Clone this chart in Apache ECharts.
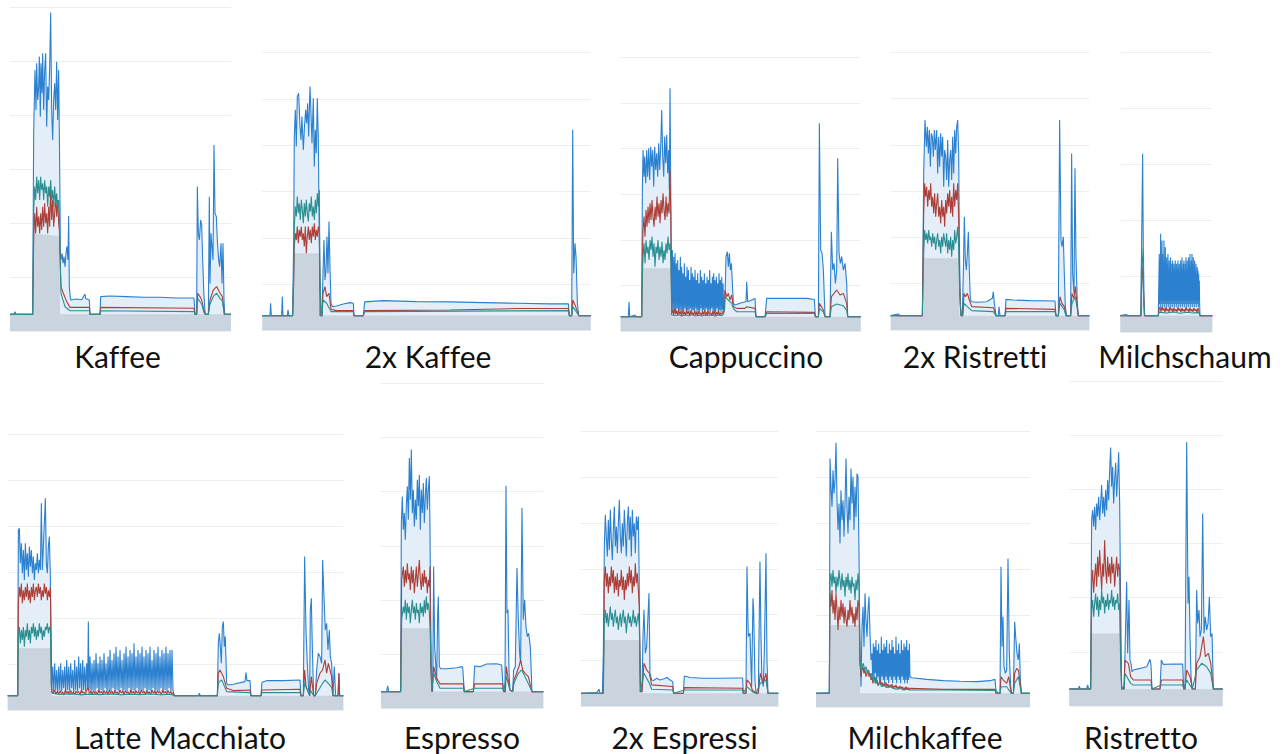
<!DOCTYPE html>
<html>
<head>
<meta charset="utf-8">
<script src="https://cdn.jsdelivr.net/npm/echarts@6.0.0/dist/echarts.min.js"></script>
<style>
html,body{margin:0;padding:0;background:#fff;}
#chart{width:1284px;height:754px;}
#chart text{font-variant-ligatures:none !important;font-feature-settings:"liga" 0, "clig" 0 !important;}
</style>
</head>
<body>
<div id="chart"></div>
<script>
// Power traces of a coffee machine, one panel per beverage.
// Each trace is a flat list of [time (s), power (W)] pairs.

const beverages = ['Kaffee', '2x Kaffee', 'Cappuccino', '2x Ristretti', 'Milchschaum',
  'Latte Macchiato', 'Espresso', '2x Espressi', 'Milchkaffee', 'Ristretto'];

// recording window per beverage [start s, end s]
const timeWindows = [[30, 693], [37, 1022], [32, 752], [32, 628], [721, 997],
  [23, 1030], [33, 520], [33, 625], [18, 660], [28, 488]];

// upper end of the power axis (W) and its tick step
const powerMax = [3000, 3000, 3000, 3000, 2500, 3000, 3000, 3000, 3000, 3000];
const powerStep = 500;

// ---------- Kaffee ----------
const kaffeeBlue = [30,154, 42,154, 45,179, 48,154, 98,154, 101,1831, 103,2139, 105,2417, 108,2047, 110,2479, 113,2139, 116,2263, 118,2541, 121,1985, 123,2479, 126,2201, 128,2571, 131,2047, 134,2417, 137,2571, 140,1892, 143,2263, 146,2139, 149,2448, 152,2948, 155,2047, 158,1769, 161,2139, 164,2294, 167,2047, 170,2494, 173,1954, 176,2417, 178,1831, 180,1213, 181,719, 183,658, 186,719, 189,627, 192,688, 195,596, 198,719, 201,781, 204,658, 206,1065, 208,411, 211,303, 213,287, 230,296, 245,290, 255,343, 257,300, 268,287, 270,154, 300,154, 302,318, 330,324, 380,318, 430,312, 480,312, 530,306, 582,306, 585,154, 590,154, 592,1337, 595,904, 598,843, 602,1028, 605,982, 608,658, 612,318, 616,154, 625,154, 628,1244, 630,441, 633,904, 636,781, 639,658, 642,1723, 645,1090, 649,1059, 652,843, 656,658, 659,596, 663,812, 666,441, 669,812, 672,287, 674,154, 693,154];
const kaffeeRed = [30,154, 98,154, 101,843, 104,1090, 107,904, 110,1151, 113,966, 116,1059, 119,904, 122,1090, 125,935, 128,1151, 131,966, 134,1182, 137,997, 140,1090, 143,904, 146,1151, 149,966, 152,1337, 155,1028, 158,1213, 161,966, 164,1090, 167,1244, 170,1059, 173,1213, 176,997, 178,935, 180,719, 183,411, 190,349, 200,272, 210,219, 268,219, 270,154, 300,154, 302,219, 582,210, 585,154, 590,154, 593,349, 600,318, 605,287, 612,188, 616,154, 625,154, 630,287, 640,380, 650,411, 660,349, 667,318, 673,154, 693,154];
const kaffeeTeal = [30,154, 98,154, 101,1090, 104,1337, 107,1213, 110,1429, 113,1275, 116,1398, 119,1213, 122,1429, 125,1306, 128,1368, 131,1213, 134,1398, 137,1275, 140,1337, 143,1151, 146,1337, 149,1244, 152,1398, 155,1213, 158,1306, 161,1151, 164,1337, 167,1182, 170,1275, 173,1121, 176,1213, 178,1090, 180,719, 183,349, 195,225, 210,188, 268,188, 270,154, 300,154, 302,188, 582,179, 585,154, 590,154, 593,300, 605,250, 612,170, 616,154, 625,154, 630,250, 640,320, 650,350, 660,300, 667,280, 673,154, 693,154];
const kaffeeBase = [30,154, 99,154, 101,900, 178,880, 180,154, 693,154];

// ---------- 2x Kaffee ----------
const kaffee2Blue = [37,162, 60,162, 62,295, 64,162, 95,162, 97,367, 99,162, 112,162, 114,223, 117,162, 128,162, 131,979, 133,2095, 136,2383, 139,1987, 142,2527, 146,2563, 150,2203, 153,2059, 156,2311, 160,1951, 163,2167, 167,2383, 170,2239, 173,2455, 176,2095, 180,2635, 183,2347, 186,2023, 190,2509, 193,1771, 196,2167, 199,1915, 202,2509, 205,2059, 208,979, 210,162, 216,162, 219,619, 222,979, 225,547, 228,655, 231,1015, 234,619, 237,1177, 240,691, 243,295, 247,259, 260,266, 280,288, 300,302, 310,295, 312,162, 340,162, 344,310, 400,324, 500,313, 600,310, 700,302, 800,295, 900,288, 955,288, 958,162, 965,162, 968,2167, 971,619, 975,943, 978,799, 982,295, 986,162, 1022,162];
const kaffee2Red = [37,162, 128,162, 131,500, 133,907, 136,1051, 139,979, 142,1123, 145,943, 148,1087, 151,1015, 154,1123, 157,979, 160,1051, 163,907, 166,1123, 169,835, 172,1015, 175,1123, 178,979, 181,1087, 184,943, 187,1123, 190,1015, 193,1159, 196,979, 199,1087, 202,1015, 205,1123, 208,1051, 210,547, 213,162, 216,162, 219,403, 225,475, 230,367, 237,403, 243,230, 260,216, 310,216, 312,162, 340,162, 344,216, 600,223, 800,238, 955,238, 958,162, 965,162, 968,331, 975,277, 982,205, 986,162, 1022,162];
const kaffee2Teal = [37,162, 128,162, 131,600, 133,1123, 136,1339, 139,1231, 142,1447, 145,1267, 148,1375, 151,1195, 154,1411, 157,1303, 160,1159, 163,1375, 166,1231, 169,1411, 172,1267, 175,1177, 178,1375, 181,1285, 184,1447, 187,1231, 190,1339, 193,1195, 196,1411, 199,1267, 202,1483, 205,1339, 208,1519, 210,619, 213,162, 216,162, 219,331, 230,295, 243,205, 310,205, 312,162, 340,162, 344,205, 955,216, 958,162, 965,162, 968,259, 982,187, 986,162, 1022,162];
const kaffee2Base = [37,162, 130,162, 132,835, 208,835, 210,162, 1022,162];

// ---------- Cappuccino ----------
const cappuccinoBlue = [32,161, 55,161, 57,325, 59,161, 75,179, 78,161, 95,161, 97,1548, 99,1986, 102,1694, 104,1913, 107,1621, 110,1986, 113,1694, 116,2004, 119,1657, 122,2022, 125,1803, 128,1986, 131,1584, 134,2022, 137,1767, 140,1949, 143,1694, 146,2059, 149,1767, 152,2022, 155,2424, 158,1913, 161,1694, 164,2132, 167,1840, 170,2150, 173,1730, 176,1986, 178,1548, 180,2661, 182,1621, 185,234,
  187,891, 189,215, 191,818, 193,234, 195,854, 197,197, 199,745, 201,252, 203,781, 205,215, 207,672, 209,234, 211,818, 213,197, 215,708, 217,234, 219,635, 221,215, 223,745, 225,252, 227,599, 229,197, 231,708, 233,234, 235,672, 237,215, 239,562, 241,252, 243,708, 245,197, 247,635, 249,234, 251,599, 253,215, 255,672, 257,252, 259,562, 261,197, 263,635, 265,234, 267,526, 269,215, 271,672, 273,252, 275,599, 277,197, 279,562, 281,234, 283,635, 285,215, 287,526, 289,252, 291,599, 293,197, 295,562, 297,234, 299,672, 301,215, 303,526, 305,252, 307,599, 309,197, 311,635, 313,234, 315,562, 317,215, 319,599, 321,252, 323,526, 325,197, 327,635, 329,234, 331,562, 333,215, 335,599, 337,234, 339,526, 341,215, 344,250,
  348,818, 352,872, 355,708, 358,854, 361,672, 364,745, 367,526, 370,307, 375,288, 390,307, 405,325, 408,325, 410,544, 413,325, 420,336, 435,361, 438,161, 465,161, 470,361, 500,361, 550,361, 590,361, 613,350, 616,161, 625,161, 628,2278, 632,891, 636,854, 640,672, 645,161, 660,161, 664,1091, 668,672, 672,745, 676,526, 680,672, 683,1894, 687,854, 691,745, 695,818, 700,672, 705,745, 710,526, 713,161, 752,161];
const cappuccinoRed = [32,161, 95,161, 97,800, 99,1110, 102,1256, 105,1037, 108,1329, 111,1146, 114,1365, 117,1183, 120,1402, 123,1219, 126,1438, 129,1256, 132,1146, 135,1365, 138,1219, 141,1475, 144,1256, 147,1402, 150,1183, 153,1438, 156,1292, 159,1511, 162,1329, 165,1219, 168,1475, 171,1256, 174,1402, 177,1292, 180,1767, 182,1329, 185,197,
  188,234, 191,179, 194,252, 197,190, 200,227, 203,172, 206,241, 209,186, 212,219, 215,168, 218,234, 221,183, 224,212, 227,172, 230,241, 233,190, 236,219, 239,168, 242,227, 245,183, 248,205, 251,172, 254,234, 257,179, 260,212, 263,168, 266,227, 269,186, 272,205, 275,172, 278,219, 281,183, 284,234, 287,168, 290,212, 293,179, 296,227, 299,186, 302,205, 305,172, 308,219, 311,179, 314,234, 317,168, 320,212, 323,183, 326,227, 329,172, 332,205, 335,186, 338,219, 341,205,
  345,453, 350,380, 355,416, 360,343, 365,398, 370,270, 380,252, 405,252, 410,270, 435,252, 438,161, 465,161, 470,215, 613,208, 616,161, 625,161, 628,307, 640,234, 645,161, 660,161, 664,380, 672,416, 680,453, 690,398, 700,416, 710,307, 713,161, 752,161];
const cappuccinoTeal = [32,161, 95,161, 97,600, 99,818, 102,964, 105,745, 108,1000, 111,854, 114,927, 117,781, 120,1000, 123,891, 126,1037, 129,818, 132,964, 135,708, 138,927, 141,854, 144,1000, 147,781, 150,927, 153,818, 156,982, 159,745, 162,891, 165,781, 168,964, 171,854, 174,1037, 177,891, 180,964, 183,745, 185,179,
  195,172, 205,183, 215,168, 225,179, 235,172, 245,183, 255,168, 265,176, 275,168, 285,179, 295,172, 305,176, 315,168, 325,179, 335,172, 341,190,
  345,380, 355,343, 365,307, 370,250, 380,215, 435,215, 438,161, 465,161, 470,197, 613,197, 616,161, 625,161, 628,250, 640,215, 645,161, 660,161, 664,270, 680,300, 700,280, 710,230, 713,161, 752,161];
const cappuccinoBase = [32,161, 96,161, 98,690, 183,690, 185,161, 752,161];

// ---------- 2x Ristretti ----------
const ristretti2Blue = [32,155, 55,173, 60,155, 127,155, 131,1692, 135,2268, 139,1980, 142,2196, 145,1908, 148,2160, 151,1764, 154,2124, 157,2088, 160,1872, 163,2160, 166,1944, 170,2160, 173,1692, 176,2088, 179,1764, 182,2124, 185,1872, 188,2088, 191,1548, 194,1944, 197,1872, 200,1620, 203,2052, 206,1548, 209,1836, 212,1944, 215,1620, 218,2088, 221,1692, 224,2160, 227,1908, 230,2196, 233,2268, 236,1908, 238,972, 241,252, 244,155, 247,155, 250,612, 253,1224, 256,756, 259,648, 262,828, 265,1062, 268,648, 271,324, 275,306, 290,299, 320,306, 337,342, 340,414, 343,288, 348,155, 355,155, 357,252, 360,155, 375,155, 378,331, 400,324, 450,317, 525,313, 528,155, 535,155, 539,2268, 543,972, 546,900, 550,1008, 553,612, 556,252, 560,155, 572,155, 575,1908, 578,612, 582,396, 585,1746, 588,792, 592,288, 595,155, 628,155];
const ristretti2Red = [32,155, 127,155, 131,1260, 134,1584, 137,1440, 140,1548, 143,1332, 146,1512, 149,1404, 152,1584, 155,1332, 158,1440, 161,1260, 164,1476, 167,1224, 170,1368, 173,1476, 176,1224, 179,1332, 182,1152, 185,1404, 188,1224, 191,1332, 194,1116, 197,1404, 200,1260, 203,1476, 206,1332, 209,1512, 212,1260, 215,1440, 218,1224, 221,1584, 224,1332, 227,1512, 230,1404, 233,1584, 236,1188, 239,468, 243,155, 248,155, 252,396, 256,360, 262,396, 268,324, 275,252, 340,241, 343,216, 348,155, 375,155, 378,234, 525,223, 528,155, 535,155, 540,360, 546,288, 553,252, 558,155, 572,155, 576,396, 582,342, 586,468, 590,324, 595,155, 628,155];
const ristretti2Teal = [32,155, 127,155, 131,828, 134,1080, 137,972, 140,1044, 143,936, 146,1080, 149,972, 152,1008, 155,900, 158,1044, 161,936, 164,1008, 167,864, 170,972, 173,1044, 176,900, 179,972, 182,828, 185,1008, 188,900, 191,1044, 194,972, 197,900, 200,1044, 203,828, 206,972, 209,864, 212,1008, 215,792, 218,972, 221,864, 224,1080, 227,936, 230,1008, 233,1116, 236,900, 239,396, 243,155, 248,155, 252,288, 262,252, 275,209, 340,198, 348,155, 375,155, 378,198, 525,198, 528,155, 535,155, 540,288, 553,216, 558,155, 572,155, 576,288, 586,360, 595,155, 628,155];
const ristretti2Base = [32,155, 129,155, 131,774, 236,774, 238,155, 628,155];

// ---------- Milchschaum ----------
const milchschaumBlue = [721,149, 740,158, 743,149, 783,149, 785,820, 788,1594, 790,760, 793,149, 835,149, 837,522,
  838,700, 839,253, 840,641, 841,224, 842,879, 843,283, 844,611, 845,253, 846,820, 847,224, 848,700, 849,283, 850,581, 851,253, 852,820, 853,224, 854,641, 855,283, 856,760, 857,253, 858,551, 859,224, 860,671, 861,283, 862,611, 863,253, 864,700, 865,224, 866,551, 867,283, 868,641, 869,253, 870,581, 871,224, 872,671, 873,283, 874,522, 875,253, 876,611, 877,224, 878,641, 879,283, 880,551, 881,253, 882,611, 883,224, 884,581, 885,283, 886,641, 887,253, 888,522, 889,224, 890,611, 891,283, 892,551, 893,253, 894,641, 895,224, 896,581, 897,283, 898,611, 899,253, 900,522, 901,224, 902,641, 903,283, 904,581, 905,253, 906,671, 907,224, 908,551, 909,283, 910,611, 911,253, 912,641, 913,224, 914,551, 915,283, 916,611, 917,253, 918,671, 919,224, 920,581, 921,283, 922,641, 923,253, 924,551, 925,224, 926,671, 927,283, 928,611, 929,253, 930,700, 931,224, 932,581, 933,283, 934,641, 935,253, 936,701, 937,224, 938,611, 939,283, 940,671, 941,253, 942,581, 943,224, 944,641, 945,283, 946,551, 947,253, 948,611, 949,224, 950,522, 951,283, 952,581, 953,253, 954,551, 955,224, 956,522, 957,283, 958,462, 959,253,
  960,149, 997,149];
const milchschaumRed = [721,149, 783,149, 785,462, 788,581, 791,343, 794,149, 835,149,
  837,200, 840,224, 843,185, 846,230, 849,194, 852,215, 855,179, 858,224, 861,190, 864,209, 867,182, 870,227, 873,194, 876,212, 879,179, 882,221, 885,188, 888,206, 891,182, 894,224, 897,191, 900,212, 903,179, 906,218, 909,188, 912,206, 915,182, 918,224, 921,194, 924,209, 927,179, 930,221, 933,188, 936,206, 939,182, 942,218, 945,191, 948,206, 951,179, 954,215, 957,185,
  960,149, 997,149];
const milchschaumTeal = [721,149, 783,149, 785,760, 788,640, 791,300, 794,149, 835,149, 837,180, 860,173, 880,182, 900,170, 920,179, 940,173, 958,176, 960,149, 997,149];
const milchschaumBase = [721,149, 997,149];

// ---------- Latte Macchiato ----------
const latteBlue = [23,159, 53,159, 55,1958, 58,1977, 61,1596, 64,1813, 67,1488, 70,1741, 73,1415, 76,1813, 79,1524, 82,1705, 85,1451, 88,1777, 91,1560, 94,1741, 97,1488, 100,1669, 103,1415, 106,1596, 109,1524, 112,1705, 115,1488, 118,1633, 121,1524, 124,2248, 127,1524, 130,1777, 133,2031, 136,2302, 139,1596, 142,1488, 145,1777, 148,1886, 151,1451, 153,900, 155,221,
  158,474, 161,203, 164,510, 167,221, 170,438, 173,185, 176,474, 179,221, 182,510, 185,203, 188,438, 191,239, 194,474, 197,185, 200,547, 203,221, 206,474, 209,203, 212,510, 215,239, 218,438, 221,185, 224,547, 227,221, 230,474, 233,203, 236,583, 239,239, 242,510, 245,185, 248,547, 251,221, 254,474, 257,203, 260,510, 263,239, 265,963, 267,221, 270,583, 273,185, 276,510, 279,221, 282,547, 285,203, 288,619, 291,239, 294,510, 297,185, 300,583, 303,221, 306,547, 309,203, 312,619, 315,239, 318,510, 321,185, 324,583, 327,221, 330,655, 333,203, 336,547, 339,239, 342,619, 345,185, 348,691, 351,221, 354,583, 357,203, 360,655, 363,239, 366,547, 369,185, 372,619, 375,221, 378,691, 381,203, 384,583, 387,239, 390,655, 393,185, 396,619, 399,221, 402,728, 405,203, 408,583, 411,239, 414,655, 417,185, 420,619, 423,221, 426,691, 429,203, 432,583, 435,239, 438,655, 441,185, 444,619, 447,221, 450,691, 453,203, 456,547, 459,239, 462,655, 465,185, 468,619, 471,221, 474,691, 477,203, 480,583, 483,239, 486,655, 489,185, 492,619, 495,221, 498,691, 501,203, 504,619, 507,239, 510,655, 513,185, 516,655, 519,221, 522,159,
  595,159, 598,185, 601,159, 652,159, 655,728, 658,836, 661,691, 664,510, 667,909, 670,963, 673,691, 676,800, 680,293, 685,275, 700,282, 735,311, 738,409, 741,322, 750,322, 753,159, 783,159, 786,304, 800,322, 850,322, 900,329, 903,159, 910,159, 914,1669, 918,872, 922,510, 926,221, 929,159, 931,1090, 934,1216, 937,691, 941,159, 946,159, 950,438, 955,619, 960,583, 965,510, 968,1633, 972,1234, 976,872, 980,945, 984,655, 988,872, 991,583, 995,510, 999,159, 1003,474, 1007,159, 1014,159, 1017,402, 1019,159, 1030,159];
const latteRed = [23,159, 53,159, 55,1162, 58,1339, 61,1231, 64,1376, 67,1162, 70,1303, 73,1195, 76,1339, 79,1231, 82,1376, 85,1195, 88,1303, 91,1162, 94,1339, 97,1231, 100,1376, 103,1195, 106,1303, 109,1339, 112,1231, 115,1376, 118,1267, 121,1339, 124,1195, 127,1303, 130,1231, 133,1376, 136,1267, 139,1339, 142,1195, 145,1303, 148,1231, 151,1339, 154,293,
  156,203, 160,185, 164,221, 168,176, 172,207, 176,170, 180,214, 184,181, 188,199, 192,167, 196,221, 200,185, 204,207, 208,172, 212,214, 216,181, 220,199, 224,167, 228,210, 232,185, 236,203, 240,170, 244,221, 248,188, 252,199, 256,174, 260,214, 264,250, 268,185, 272,207, 276,172, 280,214, 284,181, 288,203, 292,170, 296,221, 300,188, 304,207, 308,174, 312,214, 316,185, 320,203, 324,170, 328,221, 332,188, 336,207, 340,174, 344,214, 348,185, 352,199, 356,170, 360,221, 364,188, 368,207, 372,174, 376,214, 380,185, 384,203, 388,170, 392,221, 396,188, 400,207, 404,174, 408,214, 412,185, 416,203, 420,170, 424,221, 428,188, 432,207, 436,174, 440,214, 444,185, 448,203, 452,170, 456,221, 460,188, 464,207, 468,174, 472,214, 476,185, 480,203, 484,170, 488,221, 492,188, 496,207, 500,174, 504,214, 508,185, 512,199, 516,176, 520,190, 523,159,
  652,159, 655,402, 660,438, 670,366, 680,239, 700,214, 750,221, 753,159, 783,159, 786,221, 900,228, 903,159, 910,159, 914,438, 918,257, 929,159, 931,250, 934,366, 941,159, 946,159, 950,293, 960,402, 968,438, 975,547, 980,402, 985,510, 990,438, 995,366, 999,159, 1014,159, 1017,402, 1019,159, 1030,159];
const latteTeal = [23,159, 53,159, 55,800, 58,905, 61,727, 64,872, 67,764, 70,905, 73,691, 76,872, 79,800, 82,945, 85,764, 88,872, 91,727, 94,905, 97,836, 100,945, 103,800, 106,905, 109,764, 112,872, 115,800, 118,945, 121,836, 124,905, 127,764, 130,872, 133,800, 136,905, 139,872, 142,945, 145,836, 148,905, 151,872, 154,257,
  156,185, 180,172, 210,178, 240,168, 270,176, 300,170, 330,178, 360,168, 390,176, 420,170, 450,178, 480,168, 510,174, 523,159,
  652,159, 655,300, 665,330, 680,203, 750,192, 753,159, 783,159, 786,192, 900,192, 903,159, 910,159, 914,300, 929,159, 931,220, 941,159, 946,159, 968,293, 975,329, 985,293, 995,250, 999,159, 1030,159];
const latteBase = [23,159, 53,159, 55,673, 153,673, 155,159, 1030,159];

// ---------- Espresso ----------
const espressoBlue = [33,156, 50,156, 53,208, 56,156, 92,156, 94,1711, 97,1956, 100,1650, 103,1803, 106,1557, 109,1865, 112,2050, 115,1742, 118,2311, 121,1927, 124,2389, 127,1803, 130,2019, 133,1680, 136,1927, 139,1742, 142,2111, 145,1865, 148,2157, 151,1650, 154,2019, 157,1803, 160,2080, 163,1711, 166,1957, 169,2126, 172,1834, 175,2019, 178,2142, 180,1650, 182,879, 185,171, 188,156, 191,1311, 194,571, 197,417, 200,263, 203,879, 205,1034, 208,387, 212,367, 230,367, 260,376, 275,386, 278,380, 283,156, 310,156, 314,392, 330,386, 350,410, 380,413, 395,401, 400,171, 405,156, 408,2056, 411,879, 414,910, 417,356, 420,171, 428,156, 431,356, 436,386, 441,1295, 445,818, 449,509, 452,417, 456,1850, 460,818, 464,1002, 468,756, 472,663, 476,694, 481,571, 486,156, 520,156];
const espressoRed = [33,156, 92,156, 95,1188, 97,1188, 100,1309, 103,1124, 106,1278, 109,1155, 112,1340, 115,1188, 118,1247, 121,1093, 124,1309, 127,1155, 130,1278, 133,1064, 136,1188, 139,1309, 142,1124, 145,1247, 148,1370, 151,1188, 154,1093, 157,1247, 160,1124, 163,1278, 166,1155, 169,1216, 172,1064, 175,1188, 178,1124, 180,1309, 182,417, 186,156, 191,387, 200,279, 210,227, 280,227, 283,156, 310,156, 314,227, 398,227, 401,156, 406,156, 409,387, 415,263, 420,171, 428,156, 432,263, 440,325, 447,387, 452,448, 458,356, 465,325, 475,294, 486,156, 520,156];
const espressoTeal = [33,156, 92,156, 95,818, 97,818, 100,941, 103,879, 106,1003, 109,818, 112,972, 115,879, 118,941, 121,787, 124,910, 127,1003, 130,879, 133,941, 136,818, 139,972, 142,879, 145,910, 148,787, 151,972, 154,879, 157,941, 160,848, 163,1003, 166,879, 169,1034, 172,910, 175,972, 178,879, 181,694, 185,156, 191,325, 200,248, 210,187, 280,187, 283,156, 314,187, 398,187, 401,156, 409,294, 420,171, 428,156, 432,232, 445,325, 455,356, 465,294, 486,156, 520,156];
const espressoBase = [33,156, 93,156, 95,741, 181,741, 183,156, 520,156];

// ---------- 2x Espressi ----------
const espressi2Blue = [33,145, 80,152, 87,189, 90,145, 97,145, 100,581, 103,1742, 106,2087, 109,1851, 112,1634, 115,2033, 118,1706, 121,2142, 124,1815, 127,1597, 130,1924, 133,2178, 136,1742, 139,1960, 142,1670, 145,1996, 148,2251, 151,1851, 154,1670, 157,1996, 160,1742, 163,2142, 166,1887, 169,1634, 172,1996, 175,2178, 178,1815, 181,2069, 184,1634, 187,2142, 190,1851, 193,1996, 196,1670, 199,2069, 202,1924, 205,2069, 207,1597, 209,762, 212,163, 216,163, 219,762, 222,1053, 226,581, 230,654, 233,908, 237,1234, 240,363, 245,290, 250,283, 260,309, 270,290, 285,305, 290,319, 300,290, 308,272, 311,145, 340,145, 343,334, 360,316, 400,309, 450,309, 500,312, 518,312, 520,145, 528,145, 531,1525, 535,762, 540,799, 545,218, 549,1180, 551,1053, 555,290, 558,145, 565,145, 570,1579, 573,762, 576,290, 580,218, 583,581, 588,1670, 591,508, 594,145, 625,145];
const espressi2Red = [33,145, 100,145, 103,1379, 106,1525, 109,1307, 112,1452, 115,1234, 118,1416, 121,1307, 124,1525, 127,1343, 130,1488, 133,1234, 136,1416, 139,1270, 142,1452, 145,1198, 148,1379, 151,1307, 154,1488, 157,1270, 160,1416, 163,1162, 166,1379, 169,1270, 172,1452, 175,1307, 178,1525, 181,1343, 184,1488, 187,1234, 190,1416, 193,1307, 196,1561, 199,1343, 202,1452, 205,1270, 208,1089, 211,163, 216,163, 222,472, 230,399, 238,363, 245,236, 308,218, 311,145, 340,145, 343,207, 518,200, 520,145, 528,145, 531,290, 540,254, 547,181, 558,145, 565,145, 571,363, 580,254, 588,363, 591,254, 594,145, 625,145];
const espressi2Teal = [33,145, 100,145, 103,944, 106,1053, 109,908, 112,1017, 115,871, 118,980, 121,1089, 124,944, 127,1017, 130,871, 133,980, 136,1053, 139,908, 142,980, 145,835, 148,944, 151,1017, 154,871, 157,980, 160,1053, 163,908, 166,980, 169,799, 172,944, 175,1017, 178,908, 181,980, 184,871, 187,944, 190,1053, 193,908, 196,980, 199,871, 202,944, 205,1017, 208,871, 211,163, 222,363, 238,254, 245,189, 308,181, 311,145, 343,181, 518,181, 520,145, 531,218, 547,163, 558,145, 571,254, 588,290, 594,145, 625,145];
const espressi2Base = [33,145, 100,145, 102,726, 208,726, 210,145, 625,145];

// ---------- Milchkaffee ----------
const milchkaffeeBlue = [18,149, 55,156, 58,149, 60,2708, 63,2399, 66,2182, 69,2581, 72,2327, 75,2472, 78,2879, 81,2254, 84,1928, 87,2218, 90,1782, 93,2363, 96,2036, 99,2254, 102,1855, 105,2218, 108,2708, 111,2182, 114,1891, 117,2290, 120,2036, 123,2599, 126,2218, 129,2508, 132,1928, 135,2399, 138,2072, 141,2544, 144,2508, 147,1673, 150,584, 153,221, 156,875, 159,1093, 162,657, 165,1238, 168,947, 171,766, 174,1053, 177,1204, 180,802, 183,512,
  186,584, 188,330, 190,693, 192,294, 194,657, 196,367, 198,730, 200,258, 202,621, 204,330, 206,693, 208,294, 210,584, 212,258, 214,766, 216,330, 218,621, 220,294, 222,693, 224,258, 226,657, 228,330, 230,730, 232,294, 234,584, 236,258, 238,693, 240,330, 242,621, 244,294, 246,730, 248,258, 250,657, 252,330, 254,584, 256,294, 258,766, 260,258, 262,621, 264,330, 266,693, 268,294, 270,584, 272,258, 274,730, 276,330, 278,621, 280,294, 282,693, 284,258, 286,657, 288,294, 290,730, 292,258, 294,621, 296,294, 298,693, 300,330,
  305,319, 350,301, 400,287, 450,280, 500,276, 540,287, 555,301, 558,181, 565,149, 570,149, 573,1528, 576,657, 579,984, 582,439, 586,366, 590,403, 594,1619, 598,584, 601,294, 604,149, 610,149, 614,929, 617,766, 621,584, 625,512, 628,693, 631,294, 634,149, 660,149];
const milchkaffeeRed = [18,149, 58,149, 60,1238, 63,1093, 66,1274, 69,1020, 72,1165, 75,947, 78,1238, 81,1056, 84,839, 87,1093, 90,947, 93,1165, 96,984, 99,1129, 102,911, 105,1093, 108,947, 111,875, 114,1056, 117,947, 120,1165, 123,984, 126,1093, 129,911, 132,1020, 135,875, 138,1093, 141,947, 144,1165, 147,1093, 150,476, 153,330,
  156,403, 159,439, 162,367, 165,403, 168,330, 171,367, 174,403, 177,330, 180,367, 183,294, 186,330, 189,258, 192,294, 195,330, 198,258, 201,294, 204,230, 207,258, 210,294, 213,240, 216,267, 219,221, 222,258, 225,230, 228,267, 231,221, 234,249, 237,212, 240,240, 243,221, 246,249, 249,203, 252,230, 255,212, 258,240, 261,203, 264,221, 267,194, 270,230, 273,203, 276,221, 279,194, 282,212, 285,185, 288,221, 291,194, 294,212, 297,185, 300,203,
  400,192, 555,192, 558,149, 570,149, 573,330, 580,294, 590,258, 596,330, 604,149, 610,149, 614,366, 620,421, 625,403, 631,258, 634,149, 660,149];
const milchkaffeeTeal = [18,149, 58,149, 60,1383, 63,1456, 66,1311, 69,1492, 72,1347, 75,1420, 78,1238, 81,1420, 84,1311, 87,1492, 90,1383, 93,1274, 96,1456, 99,1311, 102,1383, 105,1202, 108,1420, 111,1311, 114,1456, 117,1274, 120,1383, 123,1238, 126,1420, 129,1311, 132,1347, 135,1165, 138,1383, 141,1274, 144,1456, 147,1311, 150,512, 153,367,
  156,439, 160,476, 164,403, 168,439, 172,367, 176,403, 180,330, 184,367, 188,294, 192,330, 196,258, 200,294, 205,240, 210,258, 215,221, 220,240, 230,212, 240,221, 250,203, 260,194, 270,203, 280,185, 290,194, 300,185,
  400,185, 555,181, 558,149, 570,149, 573,221, 590,221, 604,149, 610,149, 614,258, 625,330, 634,149, 660,149];
const milchkaffeeBase = [18,149, 58,149, 59,893, 148,893, 150,149, 660,149];

// ---------- Ristretto ----------
const ristrettoBlue = [28,157, 55,157, 58,184, 61,157, 80,157, 83,194, 86,157, 92,157, 94,1255, 95,1716, 98,1808, 101,1654, 104,1839, 107,1624, 110,1870, 113,1747, 116,1931, 119,1716, 122,1870, 125,2039, 128,1777, 131,1931, 134,1747, 137,1993, 140,1808, 143,2085, 146,1900, 149,2177, 152,2386, 155,2023, 158,2208, 161,1870, 164,2085, 167,2245, 170,1931, 173,2116, 176,2343, 179,1870, 182,947, 185,178, 192,157, 195,486, 200,1147, 203,486, 207,978, 210,424, 213,394, 216,317, 220,332, 240,347, 260,363, 270,431, 273,379, 276,157, 300,157, 304,424, 310,384, 340,387, 368,387, 371,157, 375,157, 380,2438, 384,947, 387,1193, 390,640, 393,271, 397,157, 406,157, 410,1070, 413,763, 417,886, 420,640, 424,701, 428,1777, 432,670, 436,824, 440,701, 444,763, 448,1009, 452,640, 456,670, 460,157, 488,157];
const ristrettoRed = [28,157, 92,157, 95,1132, 98,1255, 101,1046, 104,1193, 107,1316, 110,1101, 113,1378, 116,1193, 119,1439, 122,1255, 125,1070, 128,1316, 131,1193, 134,1531, 137,1255, 140,1132, 143,1378, 146,1193, 149,1316, 152,1132, 155,1378, 158,1224, 161,1316, 164,1101, 167,1255, 170,1378, 173,1193, 176,1316, 179,1255, 182,486, 185,157, 192,157, 195,424, 205,394, 212,271, 220,240, 273,240, 276,157, 300,157, 304,240, 368,240, 371,157, 375,157, 380,332, 390,271, 397,157, 406,157, 410,394, 420,455, 430,640, 436,455, 445,486, 452,394, 460,157, 488,157];
const ristrettoTeal = [28,157, 92,157, 95,886, 98,978, 101,824, 104,947, 107,1039, 110,886, 113,1009, 116,824, 119,978, 122,886, 125,1070, 128,947, 131,1009, 134,855, 137,978, 140,916, 143,1039, 146,886, 149,978, 152,947, 155,1070, 158,916, 161,1009, 164,886, 167,978, 170,947, 173,1039, 176,886, 179,947, 182,394, 185,157, 192,157, 195,300, 212,209, 220,194, 273,194, 276,157, 304,194, 368,194, 371,157, 380,240, 397,157, 410,332, 425,394, 440,363, 452,301, 460,157, 488,157];
const ristrettoBase = [28,157, 93,157, 95,670, 181,670, 183,157, 488,157];

// traces in the same order as the beverage names
const traces = [
  [kaffeeBlue, kaffeeRed, kaffeeTeal, kaffeeBase],
  [kaffee2Blue, kaffee2Red, kaffee2Teal, kaffee2Base],
  [cappuccinoBlue, cappuccinoRed, cappuccinoTeal, cappuccinoBase],
  [ristretti2Blue, ristretti2Red, ristretti2Teal, ristretti2Base],
  [milchschaumBlue, milchschaumRed, milchschaumTeal, milchschaumBase],
  [latteBlue, latteRed, latteTeal, latteBase],
  [espressoBlue, espressoRed, espressoTeal, espressoBase],
  [espressi2Blue, espressi2Red, espressi2Teal, espressi2Base],
  [milchkaffeeBlue, milchkaffeeRed, milchkaffeeTeal, milchkaffeeBase],
  [ristrettoBlue, ristrettoRed, ristrettoTeal, ristrettoBase]
];

// ---------- layout (px): plot rectangle [left, top, width, height] and caption centre ----------
const plotRects = [
  [10, 7, 221, 324], [262.3, 52.7, 328.4, 277.9], [620.7, 57.3, 240, 274.1],
  [890.7, 52.3, 198.6, 277.7], [1120.3, 52.3, 92, 280],
  [7.7, 434, 335.6, 276.3], [381, 383.3, 162.3, 325.2], [581, 431, 197.3, 275.6],
  [816, 431.7, 214, 275.3], [1069.3, 381, 153.4, 325]
];
const captionPos = [
  [117.5, 356], [428, 356], [746, 356], [975, 356], [1185, 356],
  [180, 737], [462, 737], [684.5, 737], [925, 737], [1141, 737]
];

const COLORS = {
  blue: '#2b80cf', red: '#ad3f38', teal: '#2b8f92',
  blueFill: '#e3eef8', baseFill: '#c9d4de', grid: '#eeeeee'
};

function toPairs(flat) {
  const out = [];
  for (let i = 0; i < flat.length; i += 2) out.push([flat[i], flat[i + 1]]);
  return out;
}

const grid = [], xAxis = [], yAxis = [], series = [], graphic = [];

beverages.forEach((name, i) => {
  const r = plotRects[i];
  grid.push({ left: r[0], top: r[1], width: r[2], height: r[3], containLabel: false });
  xAxis.push({ gridIndex: i, type: 'value', min: timeWindows[i][0], max: timeWindows[i][1], show: false });
  yAxis.push({
    gridIndex: i, type: 'value', min: 0, max: powerMax[i], interval: powerStep,
    axisLine: { show: false }, axisTick: { show: false }, axisLabel: { show: false },
    splitLine: { show: true, lineStyle: { color: COLORS.grid, width: 1 } }
  });
  const [blue, red, teal, base] = traces[i];
  const common = { type: 'line', xAxisIndex: i, yAxisIndex: i, showSymbol: false, symbol: 'none',
    silent: true, animation: false, sampling: null };
  series.push(Object.assign({}, common, {
    name: name + ' L1', data: toPairs(blue),
    lineStyle: { color: COLORS.blue, width: 1.1 },
    areaStyle: { color: COLORS.blueFill, opacity: 1 }
  }));
  series.push(Object.assign({}, common, {
    name: name + ' Grundlast', data: toPairs(base),
    lineStyle: { width: 0 },
    areaStyle: { color: COLORS.baseFill, opacity: 1 }
  }));
  series.push(Object.assign({}, common, {
    name: name + ' L2', data: toPairs(red),
    lineStyle: { color: COLORS.red, width: 1.1 }
  }));
  series.push(Object.assign({}, common, {
    name: name + ' L3', data: toPairs(teal),
    lineStyle: { color: COLORS.teal, width: 1.1 }
  }));
  graphic.push({
    type: 'text', x: captionPos[i][0], y: captionPos[i][1], silent: true,
    style: { text: name, font: '30px Lato', fill: '#111111',
      align: 'center', verticalAlign: 'middle', textAlign: 'center', textVerticalAlign: 'middle' }
  });
});

const chart = echarts.init(document.getElementById('chart'), null, { renderer: 'svg' });
chart.setOption({
  backgroundColor: '#ffffff',
  animation: false,
  grid, xAxis, yAxis, series, graphic
});
</script>
</body>
</html>
